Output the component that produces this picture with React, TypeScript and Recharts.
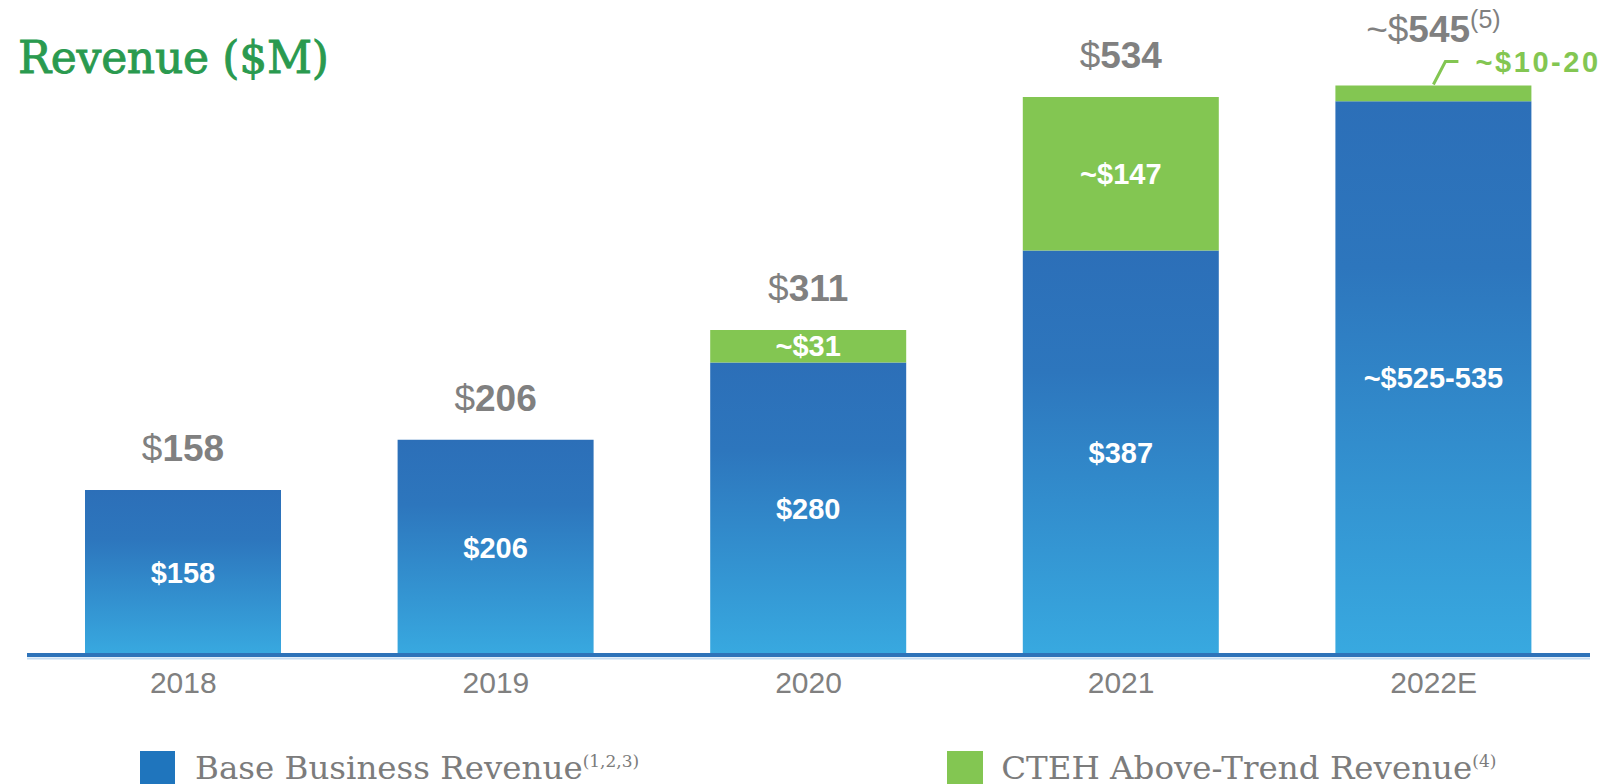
import React from 'react';
import { BarChart, Bar, XAxis, YAxis, LabelList, ReferenceLine } from 'recharts';

const categories = ['2018', '2019', '2020', '2021', '2022E'];
const baseRevenue = [158, 206, 280, 387, 530];
const aboveTrend = [0, 0, 31, 147, 15];
const totalLabels = ['158', '206', '311', '534', '545'];
const baseLabels = ['$158', '$206', '$280', '$387', '~$525-535'];
const aboveLabels = ['', '', '~$31', '~$147', '~$10-20'];

const data = categories.map((year, i) => ({
  year,
  base: baseRevenue[i],
  above: aboveTrend[i],
  baseLabel: baseLabels[i],
  aboveLabel: i === 4 ? '' : aboveLabels[i],
}));

const GRAY = '#808080';
const GREEN = '#83C652';
const FONT = '"Liberation Sans", Arial, sans-serif';
const SERIF = '"DejaVu Serif", serif';

// drawn off the base bar: every category has one, so index lines up
const TotalLabel = (props: any) => {
  const { x, y, width, height, index } = props;
  const cx = x + width / 2;
  const pxPerUnit = height / baseRevenue[index];
  const top = y - aboveTrend[index] * pxPerUnit;
  if (index === 4) {
    return (
      <g>
        <text x={cx} y={top - 43} textAnchor="middle" fontFamily={FONT} fontSize={37} fill={GRAY}>
          <tspan>~$</tspan>
          <tspan fontWeight="bold">{totalLabels[index]}</tspan>
          <tspan fontSize={25} dy={-14}>(5)</tspan>
        </text>
        <polyline
          points={`${cx},${top - 1} ${cx + 12},${top - 24} ${cx + 25},${top - 24}`}
          fill="none"
          stroke={GREEN}
          strokeWidth={3}
        />
        <text
          x={cx + 42}
          y={top - 13}
          fontFamily={FONT}
          fontSize={29}
          fontWeight="bold"
          letterSpacing={2.6}
          fill={GREEN}
        >
          {aboveLabels[index]}
        </text>
      </g>
    );
  }
  return (
    <text x={cx} y={top - 29} textAnchor="middle" fontFamily={FONT} fontSize={37} fill={GRAY}>
      <tspan>$</tspan>
      <tspan fontWeight="bold">{totalLabels[index]}</tspan>
    </text>
  );
};

const UnderLine = (props: any) => {
  const { x1, x2, y1 } = props;
  return <line x1={x1} x2={x2} y1={y1 + 3.5} y2={y1 + 3.5} stroke="#C5DDF2" strokeWidth={2} />;
};

export default function App() {
  return (
    <div style={{ position: 'absolute', left: 0, top: 0, width: 1610, height: 784, background: '#fff' }}>
      <div
        style={{
          position: 'absolute',
          left: 18,
          top: 30,
          fontFamily: SERIF,
          fontSize: 44,
          color: '#2A9A4F',
          WebkitTextStroke: '0.9px #2A9A4F',
          lineHeight: '56px',
          letterSpacing: -0.3,
        }}
      >
        Revenue ($M)
      </div>

      <BarChart
        width={1610}
        height={784}
        data={data}
        margin={{ top: 28, right: 20, left: 27, bottom: 69 }}
        barSize={196}
      >
        <defs>
          <linearGradient id="blueGrad" x1="0" y1="0" x2="0" y2="1">
            <stop offset="0%" stopColor="#2C6FB8" />
            <stop offset="30%" stopColor="#2D76BD" />
            <stop offset="100%" stopColor="#38A9E0" />
          </linearGradient>
        </defs>
        <XAxis
          dataKey="year"
          axisLine={{ stroke: '#2E73B9', strokeWidth: 4 }}
          tickLine={false}
          tickSize={0}
          tickMargin={17}
          height={60}
          tick={{ fill: GRAY, fontSize: 30, fontFamily: FONT }}
        />
        <YAxis hide domain={[0, 600]} />
        <ReferenceLine y={0} shape={<UnderLine />} />
        <Bar dataKey="base" stackId="rev" fill="url(#blueGrad)" isAnimationActive={false}>
          <LabelList
            dataKey="baseLabel"
            position="center"
            fill="#fff"
            fontSize={29}
            fontWeight="bold"
            fontFamily={FONT}
          />
          <LabelList dataKey="base" content={<TotalLabel />} />
        </Bar>
        <Bar dataKey="above" stackId="rev" fill={GREEN} isAnimationActive={false}>
          <LabelList
            dataKey="aboveLabel"
            position="center"
            fill="#fff"
            fontSize={29}
            fontWeight="bold"
            fontFamily={FONT}
          />
        </Bar>
      </BarChart>

      <div
        style={{
          position: 'absolute',
          top: 751,
          left: 140,
          display: 'flex',
          alignItems: 'flex-start',
          fontFamily: SERIF,
          fontSize: 32.5,
          color: '#7C7C7C',
          lineHeight: '34px',
        }}
      >
        <span style={{ width: 35, height: 34, background: '#1F75BD', marginRight: 20 }} />
        <span>
          Base Business Revenue<sup style={{ fontSize: 17, lineHeight: 0 }}>(1,2,3)</sup>
        </span>
        <span style={{ width: 36, height: 34, background: GREEN, marginLeft: 308, marginRight: 18 }} />
        <span>
          CTEH Above-Trend Revenue<sup style={{ fontSize: 17, lineHeight: 0 }}>(4)</sup>
        </span>
      </div>
    </div>
  );
}
